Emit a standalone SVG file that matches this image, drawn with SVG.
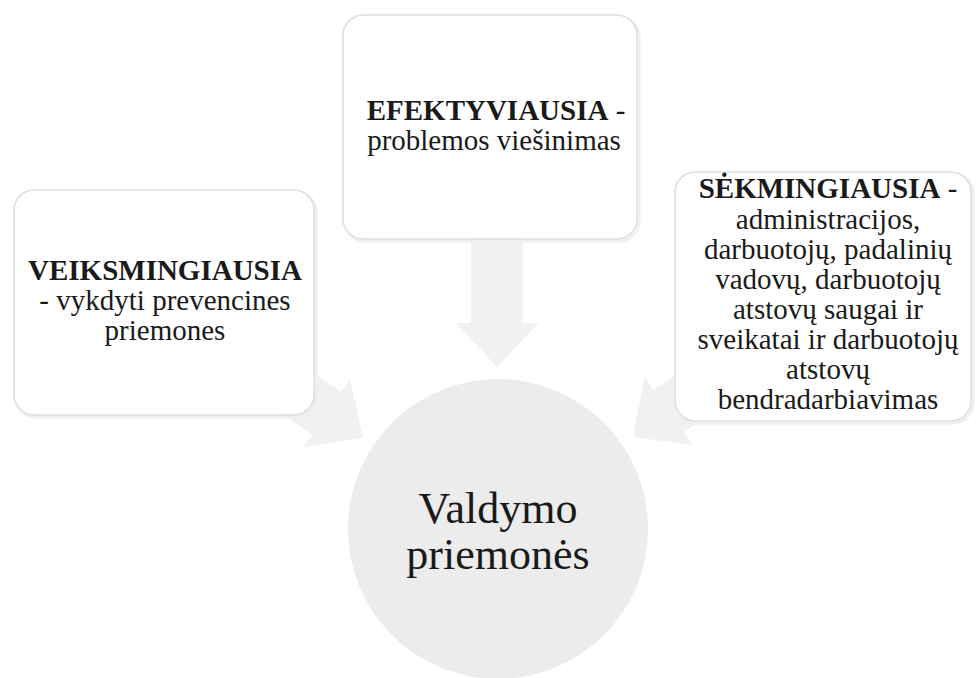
<svg xmlns="http://www.w3.org/2000/svg" width="977" height="678" viewBox="0 0 977 678">
<defs>
<style>
.box{fill:#ffffff;stroke:#dedede;stroke-width:1.5}
.shadow{fill:none;stroke:#efefef;stroke-width:3}
.arrow{fill:#f1f1f1;stroke:none}
.t{font-family:"Liberation Serif","Times New Roman",serif;font-size:29px;fill:#1a1a1a;text-anchor:middle}
.b{font-weight:bold}
.c{font-family:"Liberation Serif","Times New Roman",serif;font-size:44px;fill:#1a1a1a;text-anchor:middle}
</style>
<polygon id="arr" points="-200,-26 -44,-26 -44,-41.5 0,0 -44,41.5 -44,26 -200,26"/>
</defs>
<rect width="977" height="678" fill="#ffffff"/>
<g id="connectors">
<use href="#arr" class="arrow" transform="translate(497,367) rotate(90)"/>
<use href="#arr" class="arrow" transform="translate(363,438) rotate(34.5)"/>
<use href="#arr" class="arrow" transform="translate(633,437) rotate(144.2)"/>
</g>
<g id="center">
<circle cx="498" cy="529" r="150" fill="#ececec"/>
<text class="c" x="498" y="523">Valdymo</text>
<text class="c" x="498" y="569">priemonės</text>
</g>
<g id="left">
<rect class="shadow" x="16" y="192" width="300" height="225" rx="20"/>
<rect class="box" x="14" y="190" width="300" height="225" rx="20"/>
<text class="t b" x="165" y="280">VEIKSMINGIAUSIA</text>
<text class="t" x="165" y="310">- vykdyti prevencines</text>
<text class="t" x="165" y="340">priemones</text>
</g>
<g id="top">
<rect class="shadow" x="345" y="17" width="294" height="224" rx="20"/>
<rect class="box" x="343" y="15" width="294" height="224" rx="20"/>
<text class="t" x="496" y="120"><tspan class="b">EFEKTYVIAUSIA</tspan> -</text>
<text class="t" x="494" y="150">problemos viešinimas</text>
</g>
<g id="right">
<rect class="shadow" x="677" y="174" width="296" height="249" rx="20"/>
<rect class="box" x="675" y="172" width="296" height="249" rx="20"/>
<text class="t" x="828" y="198"><tspan class="b">SĖKMINGIAUSIA</tspan> -</text>
<text class="t" x="828" y="229">administracijos,</text>
<text class="t" x="828" y="259">darbuotojų, padalinių</text>
<text class="t" x="828" y="289">vadovų, darbuotojų</text>
<text class="t" x="828" y="319">atstovų saugai ir</text>
<text class="t" x="828" y="349">sveikatai ir darbuotojų</text>
<text class="t" x="828" y="379">atstovų</text>
<text class="t" x="828" y="409">bendradarbiavimas</text>
</g>
</svg>
